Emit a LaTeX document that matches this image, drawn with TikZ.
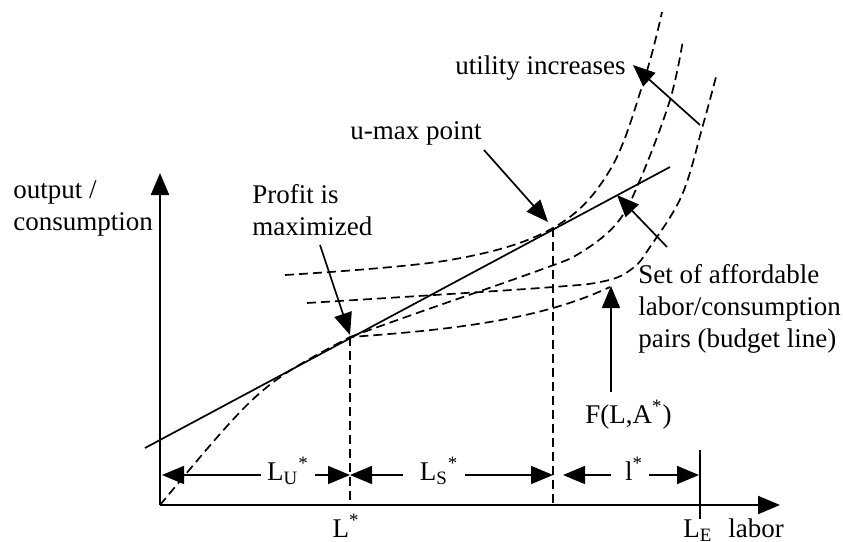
\documentclass[tikz,border=0pt]{standalone}
\usepackage{fontspec}
\setmainfont{Liberation Serif}
\usetikzlibrary{arrows.meta}

\begin{document}
\begin{tikzpicture}[
      x=0.5pt, y=-0.5pt,
      font=\fontsize{13.5pt}{16pt}\selectfont,
      lbl/.style={inner sep=0pt, align=left},
      dimlbl/.style={inner xsep=3pt, inner ysep=0pt},
      arr/.style={-{Triangle[length=11pt, width=9pt]}, line width=0.85pt},
      axisarr/.style={-{Triangle[length=11pt, width=9pt]}, line width=1.1pt},
      dsh/.style={dash pattern=on 4.5pt off 2.5pt, line width=0.85pt}
    ]
      \useasboundingbox (0,0) rectangle (843,542);
      \coordinate (o) at (160,505);
      \coordinate (ytop) at (160,173);
      \coordinate (xend) at (780,505);
      \coordinate (tan) at (350,337);
      \coordinate (umax) at (553,228);
      \coordinate (letop) at (700,450);

      \node[lbl, anchor=north west] (ylab) at (13,180) {output /\\consumption};
      \node[lbl, anchor=base west] (xlab) at (728,537) {labor};
      \node[lbl, anchor=base] (lstar) at (346,537) {L\textsuperscript{*}};
      \node[lbl, anchor=base] (le) at (698,537) {L\textsubscript{E}};
      \node[lbl, anchor=north west] (profit) at (252,184) {Profit is\\maximized};
      \node[lbl, anchor=base west] (umaxlab) at (350,139) {u-max point};
      \node[lbl, anchor=base west] (util) at (455,74) {utility increases};
      \node[lbl, anchor=north west] (budget) at (638,264) {Set of affordable\\labor/consumption\\pairs (budget line)};
      \node[lbl, anchor=base west] (flab) at (585,423) {F(L,A\textsuperscript{*})};

      \draw[axisarr] (o) -- (ytop);
      \draw[axisarr] (o) -- (xend);

      \draw[line width=0.85pt] (145,448) -- (670,167);
      \draw[dsh] (o) .. controls (260,385) .. (tan) .. controls (450,330) and (540,320) .. (610,287);
      \draw[dsh] plot[smooth, tension=0.6] coordinates {(285,275) (450,260) (553,228) (610,170) (645,77) (662,12)};
      \draw[dsh] plot[smooth, tension=0.6] coordinates {(350,337) (420,312) (540,270) (580,253) (617,223) (640,180) (670,100) (683,40)};
      \draw[dsh] plot[smooth, tension=0.6] coordinates {(307,303) (540,288) (605,281) (633,268) (650,247) (682,195) (703,125) (717,73)};

      \draw[dsh] (tan) -- (tan |- o);
      \draw[dsh] (umax) -- (umax |- o);
      \draw[line width=0.85pt] (letop) -- (letop |- le.north);

      \coordinate (umaxtail) at (484,150);
      \coordinate (umaxtip) at (548,222);
      \coordinate (proftail) at (320,245);
      \coordinate (proftip) at (350,335);
      \coordinate (utiltail) at (700,125);
      \coordinate (utiltip) at (633,65);
      \coordinate (budtail) at (667,247);
      \coordinate (budtip) at (617,195);
      \coordinate (ftail) at (611,392);
      \coordinate (ftip) at (611,286);
      \draw[arr] (umaxtail) -- (umaxtip);
      \draw[arr] (proftail) -- (proftip);
      \draw[arr] (utiltail) -- (utiltip);
      \draw[arr] (budtail) -- (budtip);
      \draw[arr] (ftail) -- (ftip);

      \coordinate (d0) at (162,475);
      \coordinate (d1) at (350,475);
      \coordinate (d2) at (553,475);
      \coordinate (d3) at (563,475);
      \coordinate (d4) at (699,475);
      \node[dimlbl, anchor=base] (lu) at (288,480) {L\textsubscript{U}\textsuperscript{*}};
      \node[dimlbl, anchor=base] (ls) at (439,480) {L\textsubscript{S}\textsuperscript{*}};
      \node[dimlbl, anchor=base] (ll) at (634,480) {l\textsuperscript{*}};
      \draw[arr] (lu.west |- d0) -- (d0);
      \draw[arr] (lu.east |- d1) -- (d1);
      \draw[arr, shorten <=5pt] (ls.west |- d1) -- (d1);
      \draw[arr] (ls.east |- d2) -- (d2);
      \draw[arr, shorten <=4pt] (ll.west |- d3) -- (d3);
      \draw[arr] (ll.east |- d4) -- (d4);
    \end{tikzpicture}
\end{document}
